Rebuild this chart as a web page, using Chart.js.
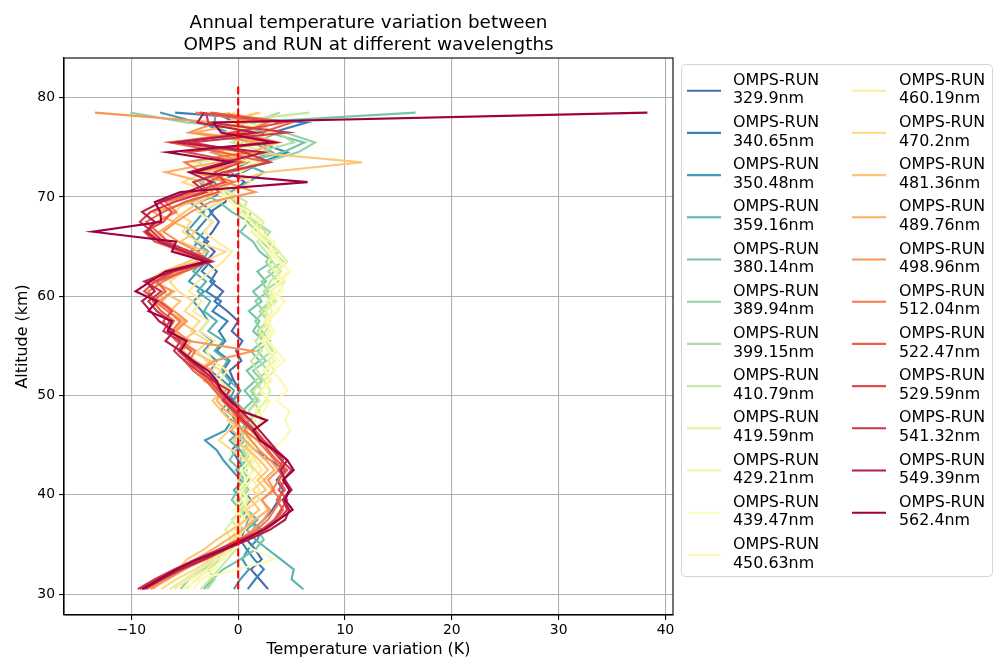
<!DOCTYPE html>
<html>
<head>
<meta charset="utf-8">
<script src="https://cdn.jsdelivr.net/npm/chart.js@4.4.1/dist/chart.umd.min.js"></script>
<style>
  html, body { margin: 0; padding: 0; background: #fff; }
  #wrap { width: 994px; height: 660px; }
</style>
</head>
<body>
<div id="wrap"><canvas id="tempChart" width="994" height="660"></canvas></div>
<script>
// altitude grid (km)
const altitude = [
  30.5, 31.5, 32.5, 33.5, 34.5, 35.5, 36.5,
  37.5, 38.5, 39.5, 40.5, 41.5, 42.5, 43.5,
  44.5, 45.5, 46.5, 47.5, 48.5, 49.5, 50.5,
  51.5, 52.5, 53.5, 54.5, 55.5, 56.5, 57.5,
  58.5, 59.5, 60.5, 61.5, 62.5, 63.5, 64.5,
  65.5, 66.5, 67.5, 68.5, 69.5, 70.5, 71.5,
  72.5, 73.5, 74.5, 75.5, 76.5, 77.5, 78.5
];

const wavelengths = ['329.9', '340.65', '350.48', '359.16', '380.14', '389.94', '399.15', '410.79',
  '419.59', '429.21', '439.47', '450.63', '460.19', '470.2', '481.36', '489.76', '498.96',
  '512.04', '522.47', '529.59', '541.32', '549.39', '562.4'];

// temperature variation (K), one value per altitude
const dT_329_9 = [
  2.8, 2.0, 1.2, 2.2, 1.6, 0.8, 1.4,
  2.4, 3.2, 3.8, 4.2, 3.6, 4.4, 3.0,
  1.6, 0.6, 0.0, -0.4, 0.2, -0.5, 0.2,
  -0.4, -0.8, 0.3, -0.2, 0.4, -0.6, 0.0,
  -1.0, -2.2, -1.4, -2.6, -2.0, -3.0, -2.2,
  -3.2, -2.4, -1.8, -2.6, -1.2, -0.6, 0.6,
  -0.8, 1.0, -0.4, 1.6, 2.4, -0.2, -2.2];
const dT_340_65 = [
  0.9, 1.6, 2.4, 1.5, 0.8, 0.2, 0.6,
  1.0, 0.5, 1.2, 0.4, 1.0, 0.6, 0.0,
  -0.6, 0.2, -0.8, -0.2, -1.0, -0.4, -1.2,
  -0.6, -1.4, -0.8, -2.0, -1.2, -1.8, -1.0,
  -2.4, -1.6, -3.0, -2.2, -3.4, -2.6, -3.8,
  -2.8, -4.0, -3.2, -2.4, -3.6, -1.4, -2.2,
  0.4, 2.2, 4.6, 1.8, 3.2, 6.4, -5.9];
const dT_350_48 = [
  -0.4, 0.2, 1.0, 0.4, 0.9, 1.8, 2.2,
  1.0, 0.4, 0.0, 0.8, 0.2, -0.6, -1.4,
  -2.0, -3.1, -1.2, -0.6, -1.6, -0.8, -0.4,
  -1.4, -2.6, -2.0, -3.2, -2.4, -3.6, -2.8,
  -3.4, -4.2, -3.2, -4.6, -3.8, -3.0, -4.4,
  -3.8, -4.8, -4.0, -3.2, -4.6, -2.8, -3.6,
  -2.0, 0.2, -2.4, 1.0, -0.8, -3.8, -7.3];
const dT_359_16 = [
  6.1, 5.0, 5.2, 4.0, 2.8, 1.6, 0.8,
  1.8, 0.8, 0.2, -0.4, 0.6, -0.2, 0.8,
  0.2, -0.8, 0.4, -0.2, 0.6, -0.4, 0.2,
  -0.8, -1.6, -1.0, -2.2, -1.4, -2.8, -2.0,
  -3.2, -2.6, -3.8, -3.0, -4.2, -3.4, -2.8,
  -4.0, -3.2, -2.4, -3.6, -1.6, -0.8, 1.0,
  2.4, 0.2, 3.2, 1.4, 3.8, -2.2, -2.1];
const dT_380_14 = [
  -3.2, -2.4, -1.4, 0.2, 1.6, 2.4, 1.8,
  0.8, 0.2, -0.6, 0.0, 0.6, 0.2, -0.8,
  -0.2, 0.6, 0.2, 1.0, 0.4, 1.4, 0.6,
  1.6, 0.8, 2.0, 1.2, 2.4, 1.4, 2.0,
  1.0, 2.2, 1.4, 2.6, 1.8, 3.2, 2.0,
  1.4, 0.2, 1.0, -0.6, -1.8, -3.4, -2.2,
  -3.0, 0.6, 4.2, 6.2, 2.8, 0.8, 16.6];
const dT_389_94 = [
  -5.4, -4.6, -3.2, -2.0, -1.2, -0.4, 0.4,
  0.0, 0.6, 0.2, 1.0, 0.4, 0.8, 0.2,
  0.6, 1.2, 0.6, 1.4, 1.0, 1.8, 1.2,
  2.2, 1.4, 2.6, 1.8, 3.0, 2.2, 1.6,
  2.4, 1.6, 2.8, 2.2, 3.4, 2.6, 3.8,
  2.6, 1.8, 0.8, 1.2, -0.4, -1.2, -3.6,
  -1.6, 2.4, 5.6, 7.2, 4.4, -4.8, -10.1];
const dT_399_15 = [
  -2.9, -2.2, -2.8, -1.6, -0.6, 0.2, -0.2,
  0.6, 0.2, 1.0, 0.4, 1.2, 0.6, 1.0,
  0.4, 1.0, 1.6, 1.0, 2.0, 1.4, 2.2,
  1.6, 2.8, 2.0, 3.2, 2.4, 1.8, 2.8,
  2.0, 3.0, 2.4, 3.8, 2.8, 4.2, 3.2,
  2.2, 3.0, 1.6, 0.6, -0.2, -1.6, -2.6,
  -2.2, -3.8, 1.8, 5.2, 3.6, 1.2, 3.9];
const dT_410_79 = [
  -3.5, -2.6, -1.8, -1.0, -0.2, -0.8, 0.0,
  -0.6, 0.4, -0.2, 0.8, 0.0, 0.6, 1.2,
  0.6, 0.0, 0.8, 1.6, 1.0, 2.0, 1.4,
  2.4, 1.8, 1.2, 2.2, 1.6, 2.6, 3.0,
  2.2, 3.4, 2.6, 3.0, 4.0, 3.2, 2.6,
  1.8, 2.6, 1.4, 0.4, 0.8, -0.8, -1.4,
  -3.4, -1.0, 2.8, -0.6, 1.8, -1.6, 6.7];
const dT_419_59 = [
  -6.4, -5.0, -3.6, -2.4, -1.2, -0.6, -1.2,
  -0.4, 0.4, 1.0, 0.2, 0.8, 1.4, 0.6,
  1.2, 0.6, 1.6, 2.4, 1.8, 2.6, 3.0,
  2.4, 3.4, 2.8, 3.6, 2.6, 2.0, 3.0,
  2.6, 3.6, 3.0, 4.2, 3.6, 4.6, 3.8,
  3.0, 1.8, 2.4, 1.2, 0.0, -1.0, -2.8,
  -1.2, -4.2, 2.0, 0.4, 3.0, 0.6, 1.2];
const dT_429_21 = [
  -4.8, -4.0, -2.6, -1.4, -0.8, 0.4, 0.0,
  0.6, 0.0, 0.8, 0.4, 1.2, 0.6, 1.6,
  1.0, 1.8, 1.2, 2.2, 1.6, 2.8, 2.0,
  3.0, 2.4, 3.4, 2.8, 2.2, 3.0, 2.4,
  3.2, 2.6, 3.8, 4.4, 3.4, 2.8, 3.6,
  2.4, 1.2, 2.0, 0.2, -0.6, -2.0, -1.0,
  -2.4, 0.8, -0.8, 2.2, -1.2, 2.6, -1.4];
const dT_439_47 = [
  -5.2, -3.6, 0.0, 3.4, 1.4, 0.2, -0.6,
  0.2, -0.4, 0.4, 0.0, 0.8, 0.2, 1.0,
  1.6, 1.0, 2.0, 1.4, 2.4, 3.0, 2.2,
  3.2, 2.6, 3.8, 3.0, 2.4, 3.4, 2.8,
  3.8, 3.0, 4.2, 3.4, 4.8, 4.0, 3.2,
  2.6, 1.6, 0.6, 1.0, -0.8, -1.8, -0.6,
  -1.8, 0.6, 2.4, 1.2, 3.4, 0.4, 1.6];
const dT_450_63 = [
  -4.2, -3.4, -2.2, -1.6, -0.4, 0.2, -0.4,
  0.4, 1.0, 0.4, 1.2, 0.6, 1.6, 2.2,
  3.0, 4.2, 4.9, 4.4, 4.8, 3.6, 4.6,
  4.0, 3.2, 4.4, 3.6, 2.8, 3.4, 2.6,
  3.6, 4.4, 3.2, 4.0, 4.9, 3.8, 2.8,
  3.4, 2.0, 1.2, 0.0, -0.6, -1.4, -2.0,
  -0.6, 1.4, -0.4, 2.0, 0.8, -1.2, 2.2];
const dT_460_19 = [
  -6.0, -4.6, -3.0, -2.0, -0.8, -0.2, 0.6,
  1.2, 0.6, 1.4, 2.0, 1.4, 2.2, 1.6,
  0.8, -0.4, 0.2, -1.0, -0.2, -1.4, -0.6,
  -1.8, -1.0, -2.4, -3.0, -2.2, -3.6, -2.8,
  -4.2, -3.4, -4.6, -3.8, -2.6, -1.4, -0.6,
  -2.0, -3.2, -2.4, -3.8, -1.6, -0.4, 1.2,
  0.2, 2.0, -1.0, 1.0, 3.2, -0.2, 1.6];
const dT_470_2 = [
  -7.2, -5.8, -4.0, -2.6, -1.4, -0.4, 0.6,
  1.4, 0.8, 2.0, 1.4, 2.4, 1.6, 0.8,
  -0.6, -1.8, -0.8, 0.2, -0.6, -1.6, -1.0,
  -2.4, -1.6, -3.0, -3.8, -2.8, -4.4, -3.6,
  -5.0, -4.2, -5.6, -6.4, -5.0, -3.2, -1.2,
  -3.8, -5.2, -4.4, -6.0, -4.8, -2.6, -5.2,
  -3.0, 0.4, -1.8, 2.2, 0.0, 2.6, -0.6];
const dT_481_36 = [
  -8.0, -6.8, -5.6, -4.8, -3.2, -2.0, -0.6,
  0.8, 2.0, 1.2, 2.6, 1.8, 2.8, 2.0,
  1.0, -0.4, 0.4, -0.8, -1.6, -2.4, -1.4,
  -2.8, -3.6, -2.6, -4.4, -5.2, -4.0, -5.6,
  -6.4, -5.4, -7.2, -8.6, -7.0, -4.6, -3.0,
  -5.4, -4.0, -6.2, -5.0, -3.6, -1.8, -0.6,
  2.6, 11.6, 1.2, 3.8, 0.6, -1.4, 2.0];
const dT_489_76 = [
  -8.6, -7.2, -5.8, -4.0, -2.4, -1.0, 0.4,
  1.6, 2.8, 2.2, 3.2, 2.4, 3.4, 2.6,
  1.6, 0.6, -0.6, 0.2, -1.2, -2.0, -1.6,
  -3.2, -2.4, -4.0, -5.2, -4.4, -6.0, -5.0,
  -6.6, -7.6, -6.0, -8.2, -6.8, -3.8, -4.8,
  -6.6, -7.4, -6.0, -8.0, -4.2, -2.4, -3.2,
  -6.8, -2.0, 1.4, 3.4, -4.0, 0.8, -1.0];
const dT_498_96 = [
  -8.2, -6.6, -5.0, -3.2, -1.6, 0.2, 1.4,
  2.4, 3.0, 2.2, 3.4, 2.8, 3.8, 3.0,
  2.0, 1.2, 0.4, -0.4, 0.6, -1.0, -1.8,
  -2.8, -3.6, -2.2, 1.4, -4.6, -5.8, -4.8,
  -6.0, -7.2, -6.2, -7.8, -5.4, -2.8, -3.8,
  -5.6, -7.0, -5.8, -4.4, -2.6, 1.6, -1.2,
  -4.0, 0.6, -2.4, 1.8, -4.6, -2.0, -13.4];
const dT_512_04 = [
  -9.0, -7.4, -5.6, -3.4, -1.8, 0.0, 1.8,
  2.8, 3.4, 4.0, 3.2, 3.8, 4.2, 3.4,
  2.6, 1.8, 0.6, 1.0, -0.2, -1.0, -2.0,
  -2.8, -3.8, -4.6, -4.0, -5.4, -6.2, -5.4,
  -6.6, -7.8, -8.4, -7.0, -5.2, -3.0, -5.6,
  -7.2, -8.4, -7.6, -5.8, -6.8, -3.4, -0.4,
  -3.4, -5.0, 1.0, -6.2, 0.4, 2.8, -4.0];
const dT_522_47 = [
  -8.6, -7.0, -5.2, -3.0, -1.2, 0.8, 2.4,
  3.6, 4.2, 3.6, 4.4, 3.8, 4.6, 3.6,
  2.8, 2.2, 1.2, 0.2, -0.6, -1.4, -2.2,
  -3.0, -4.2, -5.0, -4.4, -5.8, -6.6, -6.0,
  -7.2, -8.0, -6.8, -7.6, -5.0, -2.6, -4.6,
  -6.6, -7.6, -8.6, -7.0, -5.0, -1.8, -2.8,
  -0.8, 2.8, -1.6, -6.4, 2.2, 5.0, -2.6];
const dT_529_59 = [
  -9.2, -7.6, -5.8, -3.6, -1.6, 0.4, 2.2,
  3.4, 4.0, 4.6, 3.8, 4.4, 3.8, 4.2,
  3.4, 2.4, 1.6, 0.6, -0.2, -1.2, -1.8,
  -2.6, -3.4, -4.6, -5.6, -5.0, -6.4, -7.0,
  -6.2, -7.4, -8.8, -7.8, -6.0, -3.2, -5.2,
  -7.8, -8.8, -7.0, -6.2, -7.4, -4.2, -1.2,
  -2.2, 0.2, -4.8, 3.6, -0.6, 4.2, -3.6];
const dT_541_32 = [
  -9.4, -7.8, -6.0, -4.0, -1.8, 0.2, 2.6,
  3.8, 4.6, 4.2, 4.8, 4.2, 5.0, 4.0,
  3.2, 2.2, 1.4, 0.4, -0.4, -1.4, -0.8,
  -2.4, -3.8, -5.0, -6.0, -5.4, -7.0, -6.4,
  -7.6, -8.4, -7.2, -8.8, -6.4, -2.4, -4.4,
  -7.0, -8.0, -9.2, -8.2, -6.0, -3.0, -4.2,
  -1.4, 3.0, 0.6, -4.4, 4.6, -2.8, -3.0];
const dT_549_39 = [
  -8.8, -7.2, -5.4, -3.2, -1.2, 1.0, 3.0,
  4.4, 4.8, 4.2, 5.0, 4.4, 4.0, 4.6,
  3.6, 2.8, 2.0, 1.2, 0.2, -0.6, -1.6,
  -2.2, -3.2, -4.4, -5.4, -6.8, -6.0, -7.4,
  -8.2, -9.0, -7.8, -8.6, -6.2, -2.6, -5.0,
  -7.4, -8.6, -7.8, -9.0, -7.2, -4.8, -2.4,
  -4.6, -1.2, 2.4, -5.8, 1.6, -3.8, -3.2];
const dT_562_4 = [
  -9.0, -7.4, -5.8, -3.8, -1.4, 0.6, 2.4,
  3.8, 5.1, 4.4, 4.8, 4.2, 5.2, 4.6,
  3.4, 2.0, 1.4, 2.7, 0.2, -0.8, -1.6,
  -2.0, -2.8, -4.2, -5.4, -4.8, -6.6, -6.2,
  -8.4, -7.6, -9.6, -8.2, -6.8, -3.0, -6.2,
  -5.8, -13.6, -7.2, -7.3, -7.8, -5.4, 6.5,
  -4.2, -0.6, -6.6, 3.3, -1.6, -2.3, 38.3];

const allSeries = [dT_329_9, dT_340_65, dT_350_48, dT_359_16, dT_380_14, dT_389_94,
  dT_399_15, dT_410_79, dT_419_59, dT_429_21, dT_439_47, dT_450_63, dT_460_19, dT_470_2,
  dT_481_36, dT_489_76, dT_498_96, dT_512_04, dT_522_47, dT_529_59, dT_541_32, dT_549_39,
  dT_562_4];

const xTicks = [-10, 0, 10, 20, 30, 40];
const yTicks = [30, 40, 50, 60, 70, 80];
const zeroLineX = [0, 0];
const zeroLineAlt = [30.5, 81.3];

const FONT = '"DejaVu Sans", "Liberation Sans", sans-serif';

// matplotlib Spectral stops, red -> blue
const spectral = [[158,1,66],[213,62,79],[244,109,67],[253,174,97],[254,224,139],[255,255,191],
  [230,245,152],[171,221,164],[102,194,165],[50,136,189],[94,79,162]];
function spectralColor(t) {
  const pos = t * (spectral.length - 1);
  const i = Math.min(Math.floor(pos), spectral.length - 2);
  const f = pos - i;
  const c = spectral[i].map((v, j) => Math.round(v + (spectral[i + 1][j] - v) * f));
  return `rgb(${c[0]},${c[1]},${c[2]})`;
}
// reversed map, sampled on 24 steps with the first step skipped
const colors = wavelengths.map((w, k) => spectralColor(1 - (k + 1) / wavelengths.length));

function fmtTick(v) {
  return v < 0 ? '\u2212' + Math.abs(v) : String(v);
}

const LW = 2.1; // 1.5pt at 100 dpi

const datasets = allSeries.map((vals, k) => ({
  label: 'OMPS-RUN ' + wavelengths[k] + 'nm',
  data: vals.map((v, i) => ({ x: v, y: altitude[i] })),
  borderColor: colors[k],
  backgroundColor: colors[k],
  borderWidth: LW,
  pointRadius: 0,
  showLine: true,
  fill: false,
  order: allSeries.length - k + 1
}));
datasets.push({
  label: 'zero',
  data: zeroLineX.map((x, i) => ({ x: x, y: zeroLineAlt[i] })),
  borderColor: '#ff0000',
  borderWidth: LW,
  borderDash: [7.7, 3.3],
  pointRadius: 0,
  showLine: true,
  fill: false,
  order: 0
});

// title, full frame and the two-column legend
const decorPlugin = {
  id: 'decor',
  afterDraw(chart) {
    const ctx = chart.ctx;
    const a = chart.chartArea;
    ctx.save();
    ctx.strokeStyle = '#000';
    ctx.lineWidth = 1.1;
    ctx.strokeRect(a.left, a.top, a.right - a.left, a.bottom - a.top);

    ctx.fillStyle = '#000';
    ctx.font = '18.4px ' + FONT;
    ctx.textAlign = 'center';
    ctx.textBaseline = 'middle';
    const cx = (a.left + a.right) / 2;
    ctx.fillText('Annual temperature variation between', cx, 23);
    ctx.fillText('OMPS and RUN at different wavelengths', cx, 45);

    // legend box
    const bx = 681.5, by = 64.5, bw = 311, bh = 512, r = 4;
    ctx.beginPath();
    ctx.moveTo(bx + r, by);
    ctx.arcTo(bx + bw, by, bx + bw, by + bh, r);
    ctx.arcTo(bx + bw, by + bh, bx, by + bh, r);
    ctx.arcTo(bx, by + bh, bx, by, r);
    ctx.arcTo(bx, by, bx + bw, by, r);
    ctx.closePath();
    ctx.fillStyle = 'rgba(255,255,255,0.8)';
    ctx.fill();
    ctx.strokeStyle = '#d5d5d5';
    ctx.lineWidth = 1;
    ctx.stroke();

    ctx.font = '15.9px ' + FONT;
    ctx.textAlign = 'left';
    ctx.textBaseline = 'middle';
    wavelengths.forEach((w, k) => {
      const col = k < 12 ? 0 : 1;
      const row = k % 12;
      const hy = 90.7 + row * 42.2;
      const hx = col === 0 ? 687 : 852;
      ctx.strokeStyle = colors[k];
      ctx.lineWidth = LW;
      ctx.beginPath();
      ctx.moveTo(hx, hy);
      ctx.lineTo(hx + 34, hy);
      ctx.stroke();
      ctx.fillStyle = '#000';
      const tx = col === 0 ? 733 : 899;
      ctx.fillText('OMPS-RUN', tx, hy - 10);
      ctx.fillText(w + 'nm', tx, hy + 8.5);
    });
    ctx.restore();
  }
};

new Chart(document.getElementById('tempChart'), {
  type: 'scatter',
  data: { datasets: datasets },
  options: {
    responsive: false,
    animation: false,
    devicePixelRatio: 1,
    layout: { padding: { left: 0, right: 321, top: 58, bottom: 0 } },
    plugins: {
      legend: { display: false },
      title: { display: false },
      tooltip: { enabled: false }
    },
    scales: {
      x: {
        type: 'linear',
        min: -16.3,
        max: 40.7,
        afterBuildTicks: s => { s.ticks = xTicks.map(v => ({ value: v })); },
        afterFit: s => { s.height = 45; },
        ticks: { font: { family: FONT, size: 13.9 }, color: '#000', padding: 2, maxRotation: 0, callback: v => fmtTick(v) },
        grid: { color: '#b0b0b0', lineWidth: 1.1, drawTicks: true, tickLength: 5, tickColor: '#000' },
        border: { display: true, color: '#000', width: 1.1 },
        title: { display: true, text: 'Temperature variation (K)', font: { family: FONT, size: 15.9 }, color: '#000', padding: { top: 0, bottom: 1 } }
      },
      y: {
        type: 'linear',
        min: 27.9,
        max: 84,
        afterBuildTicks: s => { s.ticks = yTicks.map(v => ({ value: v })); },
        afterFit: s => { s.width = 64; },
        ticks: { font: { family: FONT, size: 13.9 }, color: '#000', padding: 4, callback: v => fmtTick(v) },
        grid: { color: '#b0b0b0', lineWidth: 1.1, drawTicks: true, tickLength: 5, tickColor: '#000' },
        border: { display: true, color: '#000', width: 1.1 },
        title: { display: true, text: 'Altitude (km)', font: { family: FONT, size: 15.9 }, color: '#000', padding: { top: 13, bottom: 0 } }
      }
    }
  },
  plugins: [decorPlugin]
});
</script>
</body>
</html>
